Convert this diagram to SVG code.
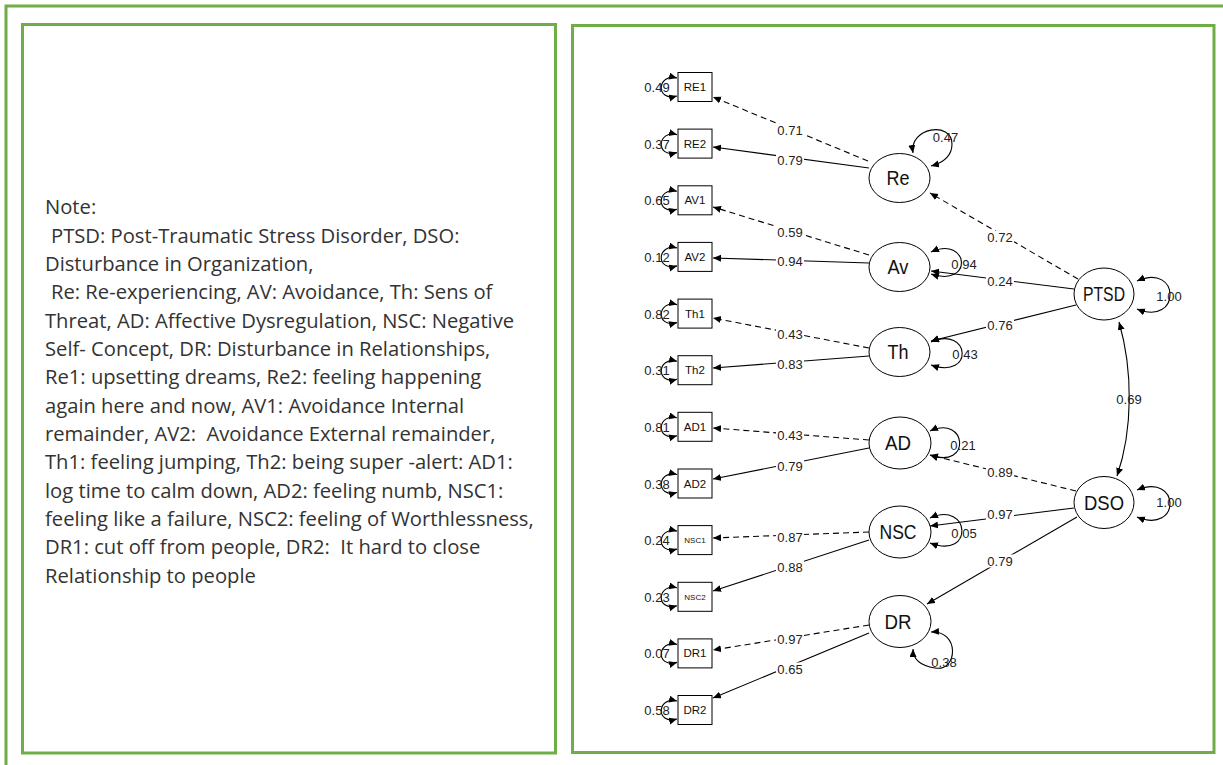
<svg xmlns="http://www.w3.org/2000/svg" width="1223" height="765" viewBox="0 0 1223 765">
<style>
.frame{fill:none;stroke:#70AD47;stroke-width:3}
.note{font-family:"Open Sans","Noto Sans",sans-serif;font-size:20.2px;fill:#333}
.box{fill:#fff;stroke:#000;stroke-width:1}
.lat{fill:#fff;stroke:#000;stroke-width:1}
.bl{font-family:"Liberation Sans",Arial,sans-serif;font-size:11.5px;fill:#111;text-anchor:middle}
.bls{font-family:"Liberation Sans",Arial,sans-serif;font-size:8px;fill:#111;text-anchor:middle}
.ll{font-family:"Liberation Sans",Arial,sans-serif;font-size:20px;fill:#111;text-anchor:middle}
.num{font-family:"Liberation Sans",Arial,sans-serif;font-size:13px;fill:#222;text-anchor:middle}
.e{fill:none;stroke:#000;stroke-width:1.1;marker-end:url(#ah)}
.d{stroke-dasharray:6,4}
.lp{fill:none;stroke:#000;stroke-width:1.1;marker-start:url(#ah);marker-end:url(#ah)}
.bg{fill:#fff}
</style>
<defs>
<marker id="ah" markerUnits="userSpaceOnUse" markerWidth="9" markerHeight="8" refX="8" refY="3.5" orient="auto-start-reverse">
<path d="M0,0 L8,3.5 L0,7 z" fill="#000"/>
</marker>
</defs>
<rect width="1223" height="765" fill="#fff"/>
<g id="frames">
<path class="frame" d="M6,767 V6 H1225"/>
<rect class="frame" x="22.5" y="24.5" width="533" height="728.5"/>
<rect class="frame" x="572.5" y="25.5" width="641.5" height="727"/>
</g>
<g id="note">
<text class="note" x="45" y="214">Note:</text>
<text class="note" x="51" y="242.5">PTSD: Post-Traumatic Stress Disorder, DSO:</text>
<text class="note" x="45" y="270.8">Disturbance in Organization,</text>
<text class="note" x="51" y="299.2">Re: Re-experiencing, AV: Avoidance, Th: Sens of</text>
<text class="note" x="45" y="327.5">Threat, AD: Affective Dysregulation, NSC: Negative</text>
<text class="note" x="45" y="355.8">Self- Concept, DR: Disturbance in Relationships,</text>
<text class="note" x="45" y="384.2">Re1: upsetting dreams, Re2: feeling happening</text>
<text class="note" x="45" y="412.5">again here and now, AV1: Avoidance Internal</text>
<text class="note" x="45" y="440.8" xml:space="preserve">remainder, AV2:  Avoidance External remainder,</text>
<text class="note" x="45" y="469.2">Th1: feeling jumping, Th2: being super -alert: AD1:</text>
<text class="note" x="45" y="497.5">log time to calm down, AD2: feeling numb, NSC1:</text>
<text class="note" x="45" y="525.8">feeling like a failure, NSC2: feeling of Worthlessness,</text>
<text class="note" x="45" y="554.2" xml:space="preserve">DR1: cut off from people, DR2:  It hard to close</text>
<text class="note" x="45" y="582.5">Relationship to people</text>
</g>
<g id="connectors">
<path class="e d" d="M868,161 L713,97"/>
<path class="e" d="M869,168 L713,147"/>
<path class="e d" d="M869,255 L713,207"/>
<path class="e" d="M869,263 L713,258"/>
<path class="e d" d="M869,348 L713,318"/>
<path class="e" d="M869,356 L713,368"/>
<path class="e d" d="M869,440 L713,428"/>
<path class="e" d="M869,448 L713,479"/>
<path class="e d" d="M869,532 L713,538"/>
<path class="e" d="M869,540 L713,591"/>
<path class="e d" d="M869,625 L713,650"/>
<path class="e" d="M869,633 L713,698"/>
<path class="e d" d="M1078,279 L930,193"/>
<path class="e" d="M1074,289 L931,271"/>
<path class="e" d="M1076,305 L931,341"/>
<path class="e d" d="M1076,491 L930,455"/>
<path class="e" d="M1074,508 L930,526"/>
<path class="e" d="M1077,517 L927,604"/>
<path class="lp" d="M1119,322 C1133,370 1133,430 1117,476"/>
<path class="lp" d="M913,153 C909,127 952,121 952,144 C952,157 942,163 931,166"/>
<path class="lp" d="M931,252 C969,235 974,288 931,274"/>
<path class="lp" d="M931,342 C970,325 975,380 931,365"/>
<path class="lp" d="M930,431 C967,414 972,470 930,455"/>
<path class="lp" d="M930,518 C970,500 975,560 930,543"/>
<path class="lp" d="M931,632 C960,630 958,672 935,668 C922,666 913,660 913,649"/>
<path class="lp" d="M1137,281 C1181,262 1181,327 1137,309"/>
<path class="lp" d="M1137,490 C1181,472 1181,535 1137,517"/>
<path class="lp" d="M677,78 C657,73 655,102 677,96"/>
<path class="lp" d="M677,134.6 C657,129.6 655,158.6 677,152.6"/>
<path class="lp" d="M677,191.3 C657,186.3 655,215.3 677,209.3"/>
<path class="lp" d="M677,247.9 C657,242.9 655,271.9 677,265.9"/>
<path class="lp" d="M677,304.6 C657,299.6 655,328.6 677,322.6"/>
<path class="lp" d="M677,361.2 C657,356.2 655,385.2 677,379.2"/>
<path class="lp" d="M677,417.8 C657,412.8 655,441.8 677,435.8"/>
<path class="lp" d="M677,474.5 C657,469.5 655,498.5 677,492.5"/>
<path class="lp" d="M677,531.1 C657,526.1 655,555.1 677,549.1"/>
<path class="lp" d="M677,587.8 C657,582.8 655,611.8 677,605.8"/>
<path class="lp" d="M677,644.4 C657,639.4 655,668.4 677,662.4"/>
<path class="lp" d="M677,701 C657,696 655,725 677,719"/>
</g>
<g id="edge-labels">
<g class="bg">
<rect x="776" y="124" width="28" height="13"/>
<rect x="776" y="153.5" width="28" height="13"/>
<rect x="776" y="226" width="28" height="13"/>
<rect x="776" y="254.5" width="28" height="13"/>
<rect x="776" y="327.5" width="28" height="13"/>
<rect x="776" y="357.5" width="28" height="13"/>
<rect x="776" y="428.5" width="28" height="13"/>
<rect x="776" y="459.5" width="28" height="13"/>
<rect x="776" y="530.5" width="28" height="13"/>
<rect x="776" y="560.5" width="28" height="13"/>
<rect x="776" y="633" width="28" height="13"/>
<rect x="776" y="662.5" width="28" height="13"/>
<rect x="986" y="231" width="28" height="13"/>
<rect x="986" y="275" width="28" height="13"/>
<rect x="986" y="318.5" width="28" height="13"/>
<rect x="986" y="466" width="28" height="13"/>
<rect x="986" y="507.5" width="28" height="13"/>
<rect x="986" y="554.5" width="28" height="13"/>
</g>
<text class="num" x="790" y="135">0.71</text>
<text class="num" x="790" y="164.5">0.79</text>
<text class="num" x="790" y="237">0.59</text>
<text class="num" x="790" y="265.5">0.94</text>
<text class="num" x="790" y="338.5">0.43</text>
<text class="num" x="790" y="368.5">0.83</text>
<text class="num" x="790" y="439.5">0.43</text>
<text class="num" x="790" y="470.5">0.79</text>
<text class="num" x="790" y="541.5">0.87</text>
<text class="num" x="790" y="571.5">0.88</text>
<text class="num" x="790" y="644">0.97</text>
<text class="num" x="790" y="673.5">0.65</text>
<text class="num" x="1000" y="242">0.72</text>
<text class="num" x="1000" y="286">0.24</text>
<text class="num" x="1000" y="329.5">0.76</text>
<text class="num" x="1000" y="477">0.89</text>
<text class="num" x="1000" y="518.5">0.97</text>
<text class="num" x="1000" y="565.5">0.79</text>
<text class="num" x="1129" y="404">0.69</text>
<text class="num" x="945.5" y="142">0.47</text>
<text class="num" x="964" y="268.5">0.94</text>
<text class="num" x="965" y="358.5">0.43</text>
<text class="num" x="963" y="449.5">0.21</text>
<text class="num" x="964" y="537.5">0.05</text>
<text class="num" x="944" y="667">0.38</text>
<text class="num" x="1169" y="300.5">1.00</text>
<text class="num" x="1169" y="507">1.00</text>
<text class="num" x="657" y="92">0.49</text>
<text class="num" x="657" y="148.6">0.37</text>
<text class="num" x="657" y="205.3">0.65</text>
<text class="num" x="657" y="261.9">0.12</text>
<text class="num" x="657" y="318.6">0.82</text>
<text class="num" x="657" y="375.2">0.31</text>
<text class="num" x="657" y="431.8">0.81</text>
<text class="num" x="657" y="488.5">0.38</text>
<text class="num" x="657" y="545.1">0.24</text>
<text class="num" x="657" y="601.8">0.23</text>
<text class="num" x="657" y="658.4">0.07</text>
<text class="num" x="657" y="715">0.58</text>
</g>
<g id="RE1"><rect class="box" x="678" y="72.5" width="34" height="29"/><text class="bl" x="695" y="91">RE1</text></g>
<g id="RE2"><rect class="box" x="678" y="129.1" width="34" height="29"/><text class="bl" x="695" y="147.6">RE2</text></g>
<g id="AV1"><rect class="box" x="678" y="185.8" width="34" height="29"/><text class="bl" x="695" y="204.3">AV1</text></g>
<g id="AV2"><rect class="box" x="678" y="242.4" width="34" height="29"/><text class="bl" x="695" y="260.9">AV2</text></g>
<g id="Th1"><rect class="box" x="678" y="299.1" width="34" height="29"/><text class="bl" x="695" y="317.6">Th1</text></g>
<g id="Th2"><rect class="box" x="678" y="355.7" width="34" height="29"/><text class="bl" x="695" y="374.2">Th2</text></g>
<g id="AD1"><rect class="box" x="678" y="412.3" width="34" height="29"/><text class="bl" x="695" y="430.8">AD1</text></g>
<g id="AD2"><rect class="box" x="678" y="469" width="34" height="29"/><text class="bl" x="695" y="487.5">AD2</text></g>
<g id="NSC1"><rect class="box" x="678" y="525.6" width="34" height="29"/><text class="bls" x="695" y="543">NSC1</text></g>
<g id="NSC2"><rect class="box" x="678" y="582.3" width="34" height="29"/><text class="bls" x="695" y="599.7">NSC2</text></g>
<g id="DR1"><rect class="box" x="678" y="638.9" width="34" height="29"/><text class="bl" x="695" y="657.4">DR1</text></g>
<g id="DR2"><rect class="box" x="678" y="695.5" width="34" height="29"/><text class="bl" x="695" y="714">DR2</text></g>
<g id="Re"><ellipse class="lat" cx="899.5" cy="178" rx="30.5" ry="24.5"/><text class="ll" x="898" y="185" textLength="23" lengthAdjust="spacingAndGlyphs">Re</text></g>
<g id="Av"><ellipse class="lat" cx="899.5" cy="267" rx="30.5" ry="24.5"/><text class="ll" x="898" y="274" textLength="21" lengthAdjust="spacingAndGlyphs">Av</text></g>
<g id="Th"><ellipse class="lat" cx="899.5" cy="352" rx="30.5" ry="24.5"/><text class="ll" x="898" y="359" textLength="21" lengthAdjust="spacingAndGlyphs">Th</text></g>
<g id="AD"><ellipse class="lat" cx="900" cy="443" rx="31" ry="26"/><text class="ll" x="898" y="450" textLength="26" lengthAdjust="spacingAndGlyphs">AD</text></g>
<g id="NSC"><ellipse class="lat" cx="900" cy="532" rx="31" ry="26"/><text class="ll" x="898" y="539" textLength="37" lengthAdjust="spacingAndGlyphs">NSC</text></g>
<g id="DR"><ellipse class="lat" cx="900" cy="621.5" rx="31" ry="26"/><text class="ll" x="898" y="628.5" textLength="27" lengthAdjust="spacingAndGlyphs">DR</text></g>
<g id="PTSD"><ellipse class="lat" cx="1104" cy="294" rx="30" ry="26"/><text class="ll" x="1104" y="301" textLength="42" lengthAdjust="spacingAndGlyphs">PTSD</text></g>
<g id="DSO"><ellipse class="lat" cx="1104" cy="502.5" rx="30" ry="26"/><text class="ll" x="1104" y="509.5" textLength="40" lengthAdjust="spacingAndGlyphs">DSO</text></g>
</svg>
